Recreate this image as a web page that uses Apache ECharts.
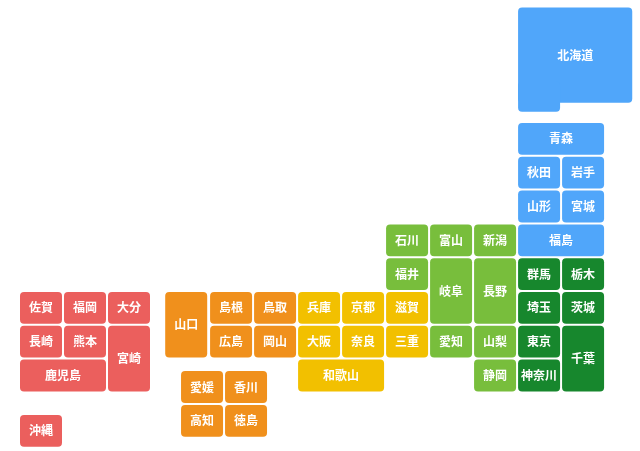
<!DOCTYPE html>
<html><head><meta charset="utf-8">
<script src="https://cdn.jsdelivr.net/npm/echarts@6/dist/echarts.min.js"></script>
<style>html,body{margin:0;padding:0;background:#fff}#c{width:640px;height:451px}</style>
</head><body><div id="c"></div>
<script>
const names = ['北海道','青森','秋田','岩手','山形','宮城','福島','石川','富山','新潟','福井','岐阜','長野','群馬','栃木','佐賀','福岡','大分','山口','島根','鳥取','兵庫','京都','滋賀','埼玉','茨城','長崎','熊本','宮崎','広島','岡山','大阪','奈良','三重','愛知','山梨','東京','千葉','鹿児島','和歌山','静岡','神奈川','愛媛','香川','高知','徳島','沖縄'];
const cols = [11.32,11.32,11.32,12.32,11.32,12.32,11.32,8.32,9.32,10.32,8.32,9.32,10.32,11.32,12.32,0,1,2,3.3,4.32,5.32,6.32,7.32,8.32,11.32,12.32,0,1,2,4.32,5.32,6.32,7.32,8.32,9.32,10.32,11.32,12.32,0,6.32,10.32,11.32,3.66,4.66,3.66,4.66,0];
const rows = [-3.42,0,1,1,2,2,3,3,3,3,4,4,4,4,4,5,5,5,5,5,5,5,5,5,5,5,6,6,6,6,6,6,6,6,6,6,6,6,7,7,7,7,7.34,7.34,8.34,8.34,8.64];
const widths = [2.64,2,1,1,1,1,2,1,1,1,1,1,1,1,1,1,1,1,1,1,1,1,1,1,1,1,1,1,1,1,1,1,1,1,1,1,1,1,2,2,1,1,1,1,1,1,1];
const heights = [3.15,1,1,1,1,1,1,1,1,1,1,2,2,1,1,1,1,1,2,1,1,1,1,1,1,1,1,1,2,1,1,1,1,1,1,1,1,2,1,1,1,1,1,1,1,1,1];
const regions = [0,0,0,0,0,0,0,1,1,1,1,1,1,2,2,5,5,5,4,4,4,3,3,3,2,2,5,5,5,4,4,3,3,3,1,1,2,2,5,3,1,2,4,4,4,4,5];
const regionColors = ['#50a6fa','#78be3c','#17872d','#f2c000','#f0901c','#eb5f5d'];
const data = names.map((n,i)=>[cols[i],rows[i],widths[i],heights[i],regions[i],n]);
const chart = echarts.init(document.getElementById('c'));
chart.setOption({
  animation:false,
  grid:{left:0,right:0,top:0,bottom:0},
  xAxis:{type:'value',min:-20/44,max:620/44,show:false},
  yAxis:{type:'value',min:-123/33.8,max:328/33.8,inverse:true,show:false},
  series:[{type:'custom',data:data,renderItem:function(params,api){
    const c=api.value(0),r=api.value(1),w=api.value(2),h=api.value(3);
    const p=api.coord([c,r]); const s=api.size([w,h]);
    const color=regionColors[api.value(4)];
    const name=names[params.dataIndex];
    const W=s[0]-2,H=s[1]-2;
    const children=[];
    if(name==='北海道'){
      const u=api.size([1,1]);
      children.push({type:'rect',shape:{x:p[0],y:p[1],width:W,height:H-9,r:4},style:{fill:color}});
      children.push({type:'rect',shape:{x:p[0],y:p[1]+H-30,width:u[0]-2,height:30,r:4},style:{fill:color}});
    } else {
      children.push({type:'rect',shape:{x:p[0],y:p[1],width:W,height:H,r:4},style:{fill:color}});
    }
    children.push({type:'text',style:{text:name,x:p[0]+W/2,y:p[1]+(name==='北海道'?(H-9)/2:H/2),align:'center',verticalAlign:'middle',fill:'#fff',font:'bold 12px "Noto Sans CJK JP"'}});
    return {type:'group',children:children};
  }}]
});
</script></body></html>
